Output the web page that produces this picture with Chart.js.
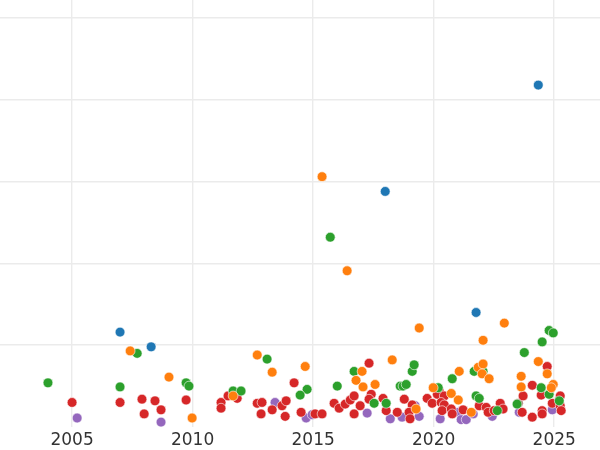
<!DOCTYPE html>
<html>
<head>
<meta charset="utf-8">
<script src="https://cdn.jsdelivr.net/npm/chart.js@4"></script>
<style>
  body { margin: 0; background: #fff; }
  canvas { display: block; }
</style>
</head>
<body>
<canvas id="chart" width="600" height="450"></canvas>
<script>
// points are [year, value]
const blue = [[2006.99,1.16],[2008.28,0.98],[2017.99,2.88],[2021.76,1.40],[2024.34,4.18]];
const orange = [[2007.41,0.93],[2009.02,0.61],[2009.98,0.11],[2011.68,0.38],[2012.68,0.88],[2013.30,0.67],
  [2014.67,0.74],[2015.37,3.06],[2016.41,1.91],[2017.03,0.68],[2016.78,0.57],[2017.07,0.49],[2017.57,0.52],
  [2018.28,0.82],[2019.40,1.21],[2019.27,0.22],[2019.98,0.48],[2020.73,0.41],[2021.06,0.68],[2021.02,0.33],
  [2021.56,0.18],[2021.85,0.73],[2022.05,0.77],[2022.01,0.65],[2022.30,0.59],[2022.05,1.06],[2022.93,1.27],
  [2023.63,0.62],[2023.63,0.49],[2024.34,0.80],[2024.71,0.65],[2024.96,0.52],[2024.88,0.48]];
const green = [[2004.00,0.54],[2006.99,0.49],[2007.70,0.90],[2009.73,0.54],[2009.85,0.50],[2011.68,0.44],
  [2012.01,0.44],[2013.09,0.83],[2014.75,0.46],[2014.46,0.39],[2015.71,2.32],[2016.00,0.50],[2016.70,0.68],
  [2017.53,0.29],[2018.03,0.29],[2018.61,0.50],[2018.73,0.50],[2018.86,0.52],[2019.11,0.68],[2019.19,0.76],
  [2020.19,0.48],[2020.77,0.59],[2021.68,0.68],[2022.05,0.68],[2021.76,0.38],[2021.89,0.35],[2022.64,0.20],
  [2023.46,0.28],[2023.76,0.91],[2024.46,0.48],[2024.50,1.04],[2024.79,1.18],[2024.96,1.15],[2024.79,0.40],
  [2025.21,0.32]];
const red = [[2005.00,0.30],[2006.99,0.30],[2007.90,0.34],[2007.99,0.16],[2008.44,0.32],[2008.69,0.21],
  [2009.73,0.33],[2011.18,0.30],[2011.18,0.23],[2011.47,0.38],[2011.85,0.35],[2012.68,0.29],[2012.88,0.30],
  [2012.84,0.16],[2013.30,0.21],[2013.71,0.26],[2013.88,0.32],[2013.84,0.13],[2014.21,0.54],[2014.50,0.18],
  [2015.08,0.16],[2015.37,0.16],[2015.87,0.29],[2016.08,0.23],[2016.33,0.28],[2016.54,0.33],[2016.70,0.38],
  [2016.95,0.26],[2016.70,0.16],[2017.32,0.78],[2017.41,0.40],[2017.32,0.34],[2017.90,0.35],[2018.03,0.20],
  [2018.49,0.18],[2018.78,0.34],[2019.11,0.27],[2018.98,0.18],[2019.02,0.10],[2019.73,0.35],[2019.94,0.29],
  [2020.23,0.44],[2020.15,0.40],[2020.44,0.38],[2020.31,0.30],[2020.44,0.27],[2020.35,0.20],[2020.73,0.22],
  [2020.77,0.16],[2021.22,0.21],[2021.89,0.26],[2022.18,0.24],[2022.26,0.18],[2022.51,0.20],[2022.76,0.29],
  [2022.88,0.22],[2023.71,0.38],[2023.67,0.18],[2024.09,0.51],[2024.09,0.12],[2024.46,0.39],[2024.50,0.20],
  [2024.50,0.16],[2024.71,0.74],[2024.92,0.29],[2025.25,0.38],[2025.25,0.26],[2025.29,0.20]];
const purple = [[2005.21,0.11],[2008.69,0.06],[2013.42,0.30],[2014.71,0.11],[2014.96,0.15],[2017.24,0.17],
  [2018.20,0.10],[2018.69,0.12],[2019.23,0.26],[2019.40,0.13],[2020.27,0.10],[2021.02,0.18],[2021.14,0.09],
  [2021.35,0.09],[2021.64,0.16],[2022.43,0.13],[2023.55,0.18],[2024.92,0.21]];
const brown = [[2023.51,0.29]];

const xTicks = [2005, 2010, 2015, 2020, 2025];
const yTicks = [1, 2, 3, 4, 5];

const toPts = arr => arr.map(([x, y]) => ({ x, y }));
const ds = (data, color) => ({
    data: toPts(data),
    backgroundColor: color,
    borderColor: '#ffffff',
    borderWidth: 0.6,
    pointRadius: 4.9,
    pointHoverRadius: 4.9
});

// no padding around the plot, like the cropped original
const noPad = s => { s.paddingTop = 0; s.paddingBottom = 0; s.paddingLeft = 0; s.paddingRight = 0; };

new Chart(document.getElementById('chart'), {
    type: 'scatter',
    data: {
        datasets: [
            ds(blue, '#1f77b4'),
            ds(orange, '#ff7f0e'),
            ds(green, '#2ca02c'),
            ds(red, '#d62728'),
            ds(purple, '#9467bd'),
            ds(brown, '#8c564b')
        ]
    },
    options: {
        responsive: false,
        animation: false,
        layout: { padding: 0, autoPadding: false },
        plugins: { legend: { display: false }, tooltip: { enabled: false } },
        scales: {
            x: {
                type: 'linear',
                min: 2002.01,
                max: 2026.9,
                afterBuildTicks: s => { s.ticks = xTicks.map(v => ({ value: v })); },
                afterFit: s => { noPad(s); s.height = 23; },
                grid: { color: '#ebebeb', lineWidth: 1.4, drawTicks: false },
                border: { display: false },
                ticks: {
                    padding: 3,
                    color: '#333333',
                    font: { family: 'DejaVu Sans', size: 17 },
                    maxRotation: 0,
                    callback: v => String(v)
                }
            },
            y: {
                min: 0,
                max: 5.22,
                afterBuildTicks: s => { s.ticks = yTicks.map(v => ({ value: v })); },
                afterFit: s => { noPad(s); s.width = 0; },
                grid: { color: '#ebebeb', lineWidth: 1.4, drawTicks: false },
                border: { display: false },
                ticks: { display: false }
            }
        }
    }
});
</script>
</body>
</html>
